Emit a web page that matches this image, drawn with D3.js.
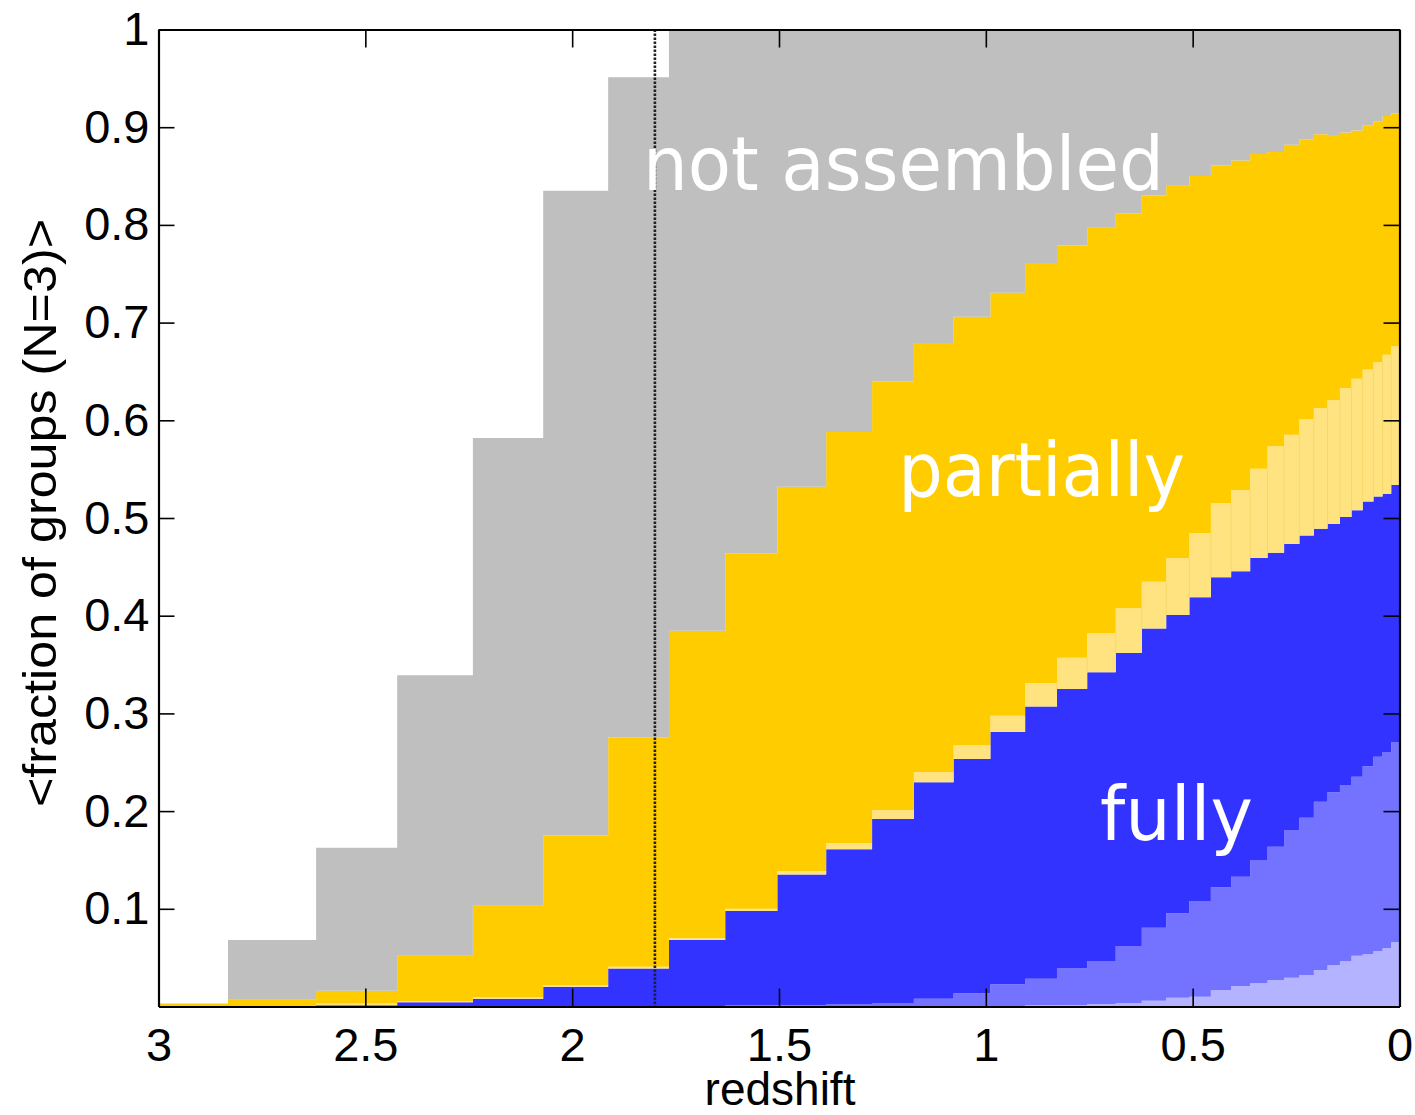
<!DOCTYPE html>
<html><head><meta charset="utf-8">
<script src="https://cdn.jsdelivr.net/npm/d3@7"></script>
<style>body{margin:0;background:#fff}</style>
</head><body><svg id="c" width="1415" height="1115"></svg>
<script>
// bin edges in redshift (37 edges -> 36 bins)
const binEdges = [3.00, 2.832, 2.619, 2.423, 2.240, 2.070, 1.913, 1.766, 1.630, 1.504, 1.386, 1.275, 1.174, 1.078, 0.989, 0.905, 0.828, 0.755, 0.686, 0.623, 0.564, 0.508, 0.456, 0.407, 0.361, 0.319, 0.279, 0.242, 0.207, 0.174, 0.144, 0.116, 0.089, 0.063, 0.041, 0.020, 0.000];

// per-bin fractions of each category (bottom to top)
const fullyLight   = [0,0,0,0,0,0,0,0,0,0,0,0,0,0,0.0005,0.0012,0.0015,0.0026,0.0033,0.006,0.009,0.010,0.0166,0.021,0.0237,0.027,0.0295,0.0322,0.0374,0.0422,0.0463,0.052,0.0534,0.0568,0.0596,0.0657];
const fullyMid     = [0,0,0,0,0,0,0,0.0005,0.001,0.0012,0.002,0.0036,0.008,0.0135,0.0222,0.0273,0.0375,0.044,0.0586,0.0747,0.0864,0.098,0.1054,0.1119,0.1263,0.1366,0.1512,0.161,0.1722,0.177,0.1804,0.1832,0.1924,0.1989,0.2009,0.205];
const fullyDark    = [0,0,0.0012,0.0043,0.008,0.0203,0.039,0.0675,0.0967,0.1338,0.159,0.1884,0.2215,0.2398,0.2583,0.2785,0.286,0.2954,0.2999,0.3063,0.3053,0.311,0.3173,0.3125,0.309,0.3009,0.2927,0.2888,0.2794,0.2747,0.2743,0.2728,0.2712,0.2663,0.2644,0.2631];
const partialLight = [0,0,0.0018,0.0013,0.0017,0.0017,0.0017,0.002,0.0023,0.0037,0.0063,0.009,0.0105,0.014,0.0167,0.024,0.032,0.040,0.0458,0.0478,0.0583,0.0656,0.0761,0.0833,0.0915,0.1089,0.1119,0.119,0.1236,0.1266,0.132,0.1346,0.135,0.1374,0.1421,0.1419];
const partialDark  = [0.003,0.007,0.013,0.0464,0.0933,0.153,0.2348,0.3147,0.364,0.3933,0.4207,0.439,0.439,0.4387,0.4329,0.430,0.422,0.415,0.4044,0.3952,0.381,0.3654,0.3456,0.3373,0.3221,0.3012,0.2967,0.2866,0.2801,0.2715,0.2616,0.254,0.250,0.2466,0.2445,0.2383];
const notAssembled = [0,0.061,0.1465,0.287,0.479,0.660,0.6755,0.6153,0.536,0.468,0.412,0.360,0.321,0.294,0.2694,0.239,0.221,0.203,0.188,0.170,0.160,0.150,0.139,0.134,0.1274,0.1254,0.118,0.1124,0.1073,0.108,0.1054,0.1034,0.098,0.094,0.0885,0.086];

const seriesKeys   = ["fullyLight","fullyMid","fullyDark","partialLight","partialDark","notAssembled"];
const seriesColors = ["#b3b3ff","#7373ff","#3333ff","#ffe380","#ffcc00","#bfbfbf"];

const xTicks = [3, 2.5, 2, 1.5, 1, 0.5, 0];
const yTicks = [0.1, 0.2, 0.3, 0.4, 0.5, 0.6, 0.7, 0.8, 0.9, 1];
const markerZ = 1.8;
const annotations = [
  {text: "not assembled", z: 1.829, v: 0.836, len: 521},
  {text: "partially", z: 1.212, v: 0.5225, len: 287},
  {text: "fully", z: 0.724, v: 0.170, len: 153}
];

const W = 1415, H = 1115;
const m = {left: 158.5, top: 29.5, right: 15.5, bottom: 108.5};
const iw = W - m.left - m.right, ih = H - m.top - m.bottom;

const svg = d3.select("#c");
const g = svg.append("g").attr("transform", `translate(${m.left},${m.top})`);

const x = d3.scaleLinear().domain([3, 0]).range([0, iw]);
const y = d3.scaleLinear().domain([0, 1]).range([ih, 0]);

const cols = {fullyLight, fullyMid, fullyDark, partialLight, partialDark, notAssembled};
const rows = binEdges.slice(0, -1).map((z, i) => {
  const r = {z0: z, z1: binEdges[i + 1]};
  seriesKeys.forEach(k => r[k] = cols[k][i]);
  return r;
});
const stacked = d3.stack().keys(seriesKeys)(rows);

const area = d3.area()
  .x(d => x(d.z))
  .y0(d => y(d.lo))
  .y1(d => y(d.hi))
  .curve(d3.curveStepAfter);

stacked.forEach((s, si) => {
  const pts = s.map((d, i) => ({z: rows[i].z0, lo: d[0], hi: d[1]}));
  const last = s[s.length - 1];
  pts.push({z: rows[rows.length - 1].z1, lo: last[0], hi: last[1]});
  g.append("path").attr("d", area(pts)).attr("fill", seriesColors[si]).attr("stroke", "none");
});

// faint bin separators in the light-yellow layer
const ply = stacked[3];
g.selectAll("line.sep").data(ply.slice(1).map((d, i) => ({z: rows[i + 1].z0, lo: Math.max(d[0], ply[i][0]), hi: Math.min(d[1], ply[i][1])})).filter(d => d.hi - d.lo > 0.005))
  .enter().append("line")
  .attr("x1", d => x(d.z)).attr("x2", d => x(d.z))
  .attr("y1", d => y(d.lo)).attr("y2", d => y(d.hi))
  .attr("stroke", "#f6d86a").attr("stroke-width", 1);

// dotted marker line
g.append("line")
  .attr("x1", x(markerZ)).attr("x2", x(markerZ))
  .attr("y1", 0).attr("y2", ih)
  .attr("stroke", "#222").attr("stroke-width", 2.6).attr("stroke-dasharray", "2.4,1.6");

// annotations
annotations.forEach(a => {
  g.append("text").attr("x", x(a.z)).attr("y", y(a.v))
    .attr("fill", "#fff").attr("font-family", "DejaVu Sans, sans-serif").attr("font-size", 74)
    .attr("textLength", a.len).attr("lengthAdjust", "spacingAndGlyphs")
    .text(a.text);
});

// axes
const fontFam = "Liberation Sans, Arial, Helvetica, sans-serif";
const xb = g.append("g").attr("transform", `translate(0,${ih})`)
  .call(d3.axisBottom(x).tickValues(xTicks).tickSize(-18).tickSizeOuter(0).tickFormat(d => String(d)));
xb.selectAll("text").attr("y", 21).attr("font-size", 47).attr("font-family", fontFam).attr("fill", "#000");
const xt = g.append("g")
  .call(d3.axisTop(x).tickValues(xTicks).tickSize(-18).tickSizeOuter(0).tickFormat(""));
const yl = g.append("g")
  .call(d3.axisLeft(y).tickValues(yTicks).tickSize(-16).tickSizeOuter(0).tickFormat(d => String(d)));
yl.selectAll("text").attr("x", -9).attr("font-size", 47).attr("font-family", fontFam).attr("fill", "#000");
const yr = g.append("g").attr("transform", `translate(${iw},0)`)
  .call(d3.axisRight(y).tickValues(yTicks).tickSize(-16).tickSizeOuter(0).tickFormat(""));
[xb, xt, yl, yr].forEach(a => {
  a.select(".domain").attr("stroke", "#000").attr("stroke-width", 2.2);
  a.selectAll(".tick line").attr("stroke", "#000").attr("stroke-width", 1.6);
});

// axis titles
svg.append("text").attr("x", 780).attr("y", 1105).attr("text-anchor", "middle")
  .attr("font-family", fontFam).attr("font-size", 46).attr("fill", "#000")
  .text("redshift");
svg.append("text").attr("transform", "translate(56,513) rotate(-90)").attr("text-anchor", "middle")
  .attr("font-family", fontFam).attr("font-size", 47).attr("fill", "#000")
  .attr("textLength", 588).attr("lengthAdjust", "spacingAndGlyphs")
  .text("<fraction of groups (N=3)>");
</script></body></html>
